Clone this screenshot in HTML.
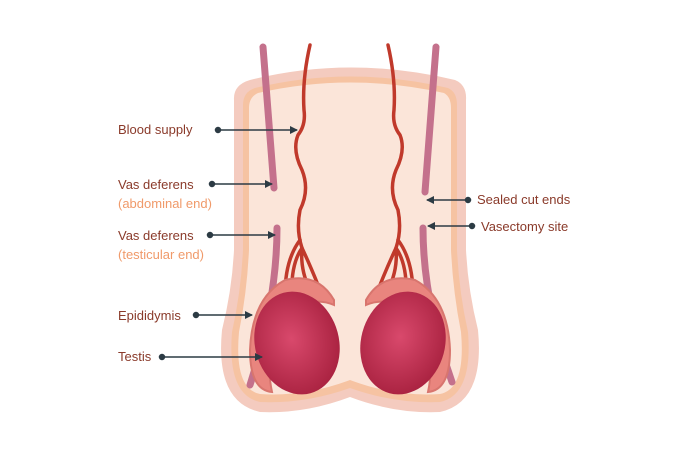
<!DOCTYPE html>
<html><head><style>
html,body{margin:0;padding:0;background:#fff;width:700px;height:450px;overflow:hidden}
text{font-family:"Liberation Sans",sans-serif;font-size:13px}
</style></head><body>
<svg width="700" height="450" viewBox="0 0 700 450" xmlns="http://www.w3.org/2000/svg">
<defs>
<marker id="a" markerWidth="8" markerHeight="8" refX="7" refY="4" orient="auto" markerUnits="userSpaceOnUse"><path d="M0,0 L8,4 L0,8 Z" fill="#2c3b44"/></marker>
<radialGradient id="t" cx="0.45" cy="0.45" r="0.6"><stop offset="0" stop-color="#d9496c"/><stop offset="1" stop-color="#a8213f"/></radialGradient>
</defs>
<path d="M250,80 Q350,55 455,80 Q467,85 466,100 L466,250 Q468,290 478,330 Q485,402 440,412 Q395,414 350,397 Q305,414 260,412 Q215,402 222,330 Q232,290 234,250 L234,100 Q233,85 250,80 Z" fill="#f4cbbf"/>
<path d="M255,88 Q350,65 448,88 Q457,92 457,105 L457,250 Q459,292 468,332 Q473,395 440,402 Q395,404 350,388 Q305,404 260,402 Q227,395 232,332 Q241,292 243,250 L243,105 Q243,92 255,88 Z" fill="#f6c3a2"/>
<path d="M258,93 Q350,72 444,93 Q451,97 451,108 L451,250 Q453,292 461,332 Q466,389 440,394 Q395,397 350,380 Q305,397 260,394 Q234,389 239,332 Q247,292 249,250 L249,108 Q249,97 258,93 Z" fill="#fbe5d9"/>
<g stroke="#c4718c" stroke-width="7" stroke-linecap="round" fill="none">
<path d="M263,47 L274,188"/>
<path d="M277,228 Q277,300 250,385"/>
<path d="M436,47 L425,192"/>
<path d="M423,228 Q423,300 452,382"/>
</g>
<g stroke="#c0392b" stroke-width="3.5" fill="none" stroke-linecap="round">
<path d="M310,45 Q302,80 304,110 Q306,125 298,135 Q292,150 302,170 Q310,190 300,210 Q296,230 302,248"/>
<path d="M302,248 Q290,265 292,300 M302,248 Q300,270 310,290 M302,248 Q310,265 318,285 M300,240 Q285,260 285,295"/>
<path d="M388,45 Q396,80 394,110 Q392,125 400,135 Q406,150 396,170 Q388,190 398,210 Q402,230 396,248"/>
<path d="M396,248 Q408,265 406,300 M396,248 Q398,270 388,290 M396,248 Q388,265 380,285 M398,240 Q413,260 413,295"/>
</g>
<path d="M334,300 Q318,272 285,280 Q252,298 250,350 Q250,390 272,392 Q262,345 288,315 Q310,295 334,305 Z" fill="#e9857e" stroke="#d8756e" stroke-width="2"/>
<path d="M366,300 Q382,272 415,280 Q448,298 450,350 Q450,390 428,392 Q438,345 412,315 Q390,295 366,305 Z" fill="#e9857e" stroke="#d8756e" stroke-width="2"/>
<ellipse cx="297" cy="343" rx="42" ry="52" transform="rotate(-15 297 343)" fill="url(#t)"/>
<ellipse cx="403" cy="343" rx="42" ry="52" transform="rotate(15 403 343)" fill="url(#t)"/>
<g fill="#8a3a2a">
<text x="118" y="134">Blood supply</text>
<text x="118" y="189">Vas deferens</text>
<text x="118" y="240">Vas deferens</text>
<text x="118" y="320">Epididymis</text>
<text x="118" y="361">Testis</text>
<text x="477" y="204">Sealed cut ends</text>
<text x="481" y="231">Vasectomy site</text>
</g>
<g fill="#f09a6a">
<text x="118" y="208">(abdominal end)</text>
<text x="118" y="259">(testicular end)</text>
</g>
<g stroke="#2c3b44" stroke-width="1.5" fill="#2c3b44">
<line x1="218" y1="130" x2="297" y2="130" marker-end="url(#a)"/><circle cx="218" cy="130" r="2.5"/>
<line x1="212" y1="184" x2="272" y2="184" marker-end="url(#a)"/><circle cx="212" cy="184" r="2.5"/>
<line x1="210" y1="235" x2="275" y2="235" marker-end="url(#a)"/><circle cx="210" cy="235" r="2.5"/>
<line x1="196" y1="315" x2="252" y2="315" marker-end="url(#a)"/><circle cx="196" cy="315" r="2.5"/>
<line x1="162" y1="357" x2="262" y2="357" marker-end="url(#a)"/><circle cx="162" cy="357" r="2.5"/>
<line x1="468" y1="200" x2="427" y2="200" marker-end="url(#a)"/><circle cx="468" cy="200" r="2.5"/>
<line x1="472" y1="226" x2="428" y2="226" marker-end="url(#a)"/><circle cx="472" cy="226" r="2.5"/>
</g>
</svg>
</body></html>
